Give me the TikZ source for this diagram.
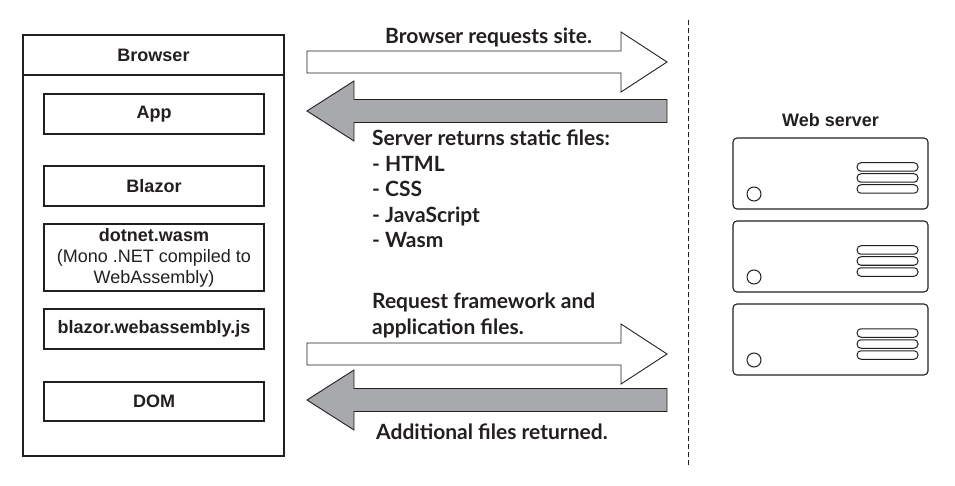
\documentclass[tikz,border=0pt]{standalone}
\usepackage{fontspec}
\setmainfont{Liberation Sans}
\newfontfamily\msgfont{Lato}
\usetikzlibrary{positioning,calc}

\definecolor{ink}{HTML}{231F20}
\definecolor{backgray}{HTML}{A7A9AC}

\tikzset{
  label/.style={text=ink, font=\fontsize{18}{21}\selectfont\bfseries},
  layer/.style={label, draw=ink, line width=1.2pt, minimum width=220pt, minimum height=40pt,
    inner sep=0pt, align=center},
  srvbox/.style={draw=ink, line width=1.1pt, rounded corners=4pt, minimum width=195pt, minimum height=71pt},
  slot/.style={draw=ink, line width=1pt, rounded corners=4pt, minimum width=61pt, minimum height=8.5pt, inner sep=0pt},
  led/.style={draw=ink, line width=1pt, circle, minimum size=14pt, inner sep=0pt},
  msg/.style={font=\msgfont\fontsize{21}{25.5}\selectfont\bfseries, text=ink, align=left, anchor=west, inner sep=0pt},
  fwd/.style={draw=ink, line width=0.9pt, fill=white},
  back/.style={draw=ink, line width=0.9pt, fill=backgray},
}

\begin{document}
\begin{tikzpicture}[x=1pt, y=-1pt]
    \useasboundingbox (0,0) rectangle (955,486);

    % Browser side
    \draw[ink, line width=1.2pt] (23,35) rectangle (284,456);
    \draw[ink, line width=1.2pt] (23,75) -- (284,75);
    \node[label] (browser) at (153.5,55) {Browser};
    \node[layer] (app) at (154,114) {App};
    \node[layer] (blazor) at (154,186) {Blazor};
    \node[layer, minimum height=67pt] (wasm) at (154,257.5) {dotnet.wasm\\\mdseries(Mono .NET compiled to\\\mdseries WebAssembly)};
    \node[layer] (bwjs) at (154,329) {blazor.webassembly.js};
    \node[layer, minimum height=39pt] (dom) at (154,401.5) {DOM};

    % Arrows
    \foreach \yc in {62,354}
        \draw[fwd] (307,{\yc-11}) -- (621,{\yc-11}) -- (621,{\yc-30}) -- (667,\yc)
            -- (621,{\yc+30}) -- (621,{\yc+11}) -- (307,{\yc+11}) -- cycle;
    \foreach \yc in {111,400}
        \draw[back] (667,{\yc-11.5}) -- (354,{\yc-11.5}) -- (354,{\yc-30}) -- (307,\yc)
            -- (354,{\yc+30}) -- (354,{\yc+11.5}) -- (667,{\yc+11.5}) -- cycle;

    \node[msg] (request) at (385,37) {Browser requests site.};
    \node[msg] (static) at (372,189) {Server returns static files:\\- HTML\\- CSS\\- JavaScript\\- Wasm};
    \node[msg] (framework) at (372,315.5) {Request framework and\\application files.};
    \node[msg] (extra) at (376,432) {Additional files returned.};

    % Divider
    \coordinate (divtop) at (688,20);
    \coordinate (divbot) at (688,467);
    \draw[ink, line width=0.8pt, dash pattern=on 5pt off 3pt] (divtop) -- (divbot);

    % Web server
    \node[label] (webserver) at (830.5,120) {Web server};
    \foreach \i/\yt in {1/138,2/221,3/304} {
        \node[srvbox] (srv\i) at (830.5,{\yt+35.5}) {};
        \node[led] (led\i) at (754,{\yt+56}) {};
        \foreach \j/\dy in {a/29,b/40,c/51}
            \node[slot] (slot\i\j) at (887.5,{\yt+\dy}) {};
    }
\end{tikzpicture}
\end{document}
